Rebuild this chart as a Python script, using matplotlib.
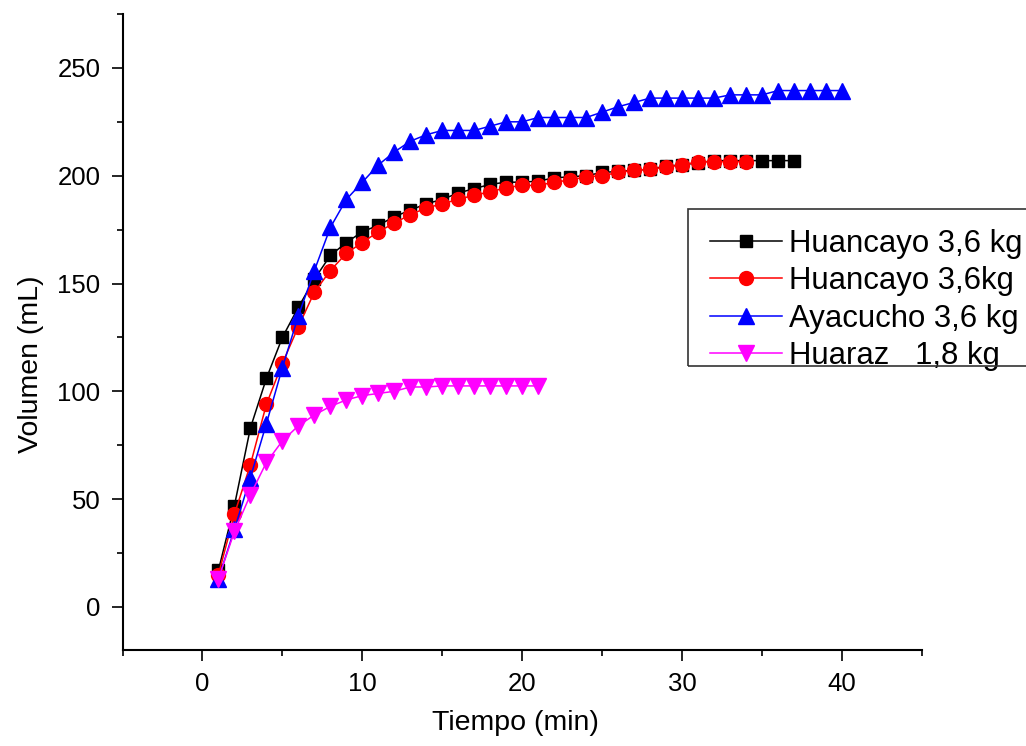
import matplotlib.pyplot as plt
from matplotlib.patches import Rectangle
from matplotlib.ticker import MultipleLocator

plt.rcParams['font.family'] = ['Liberation Sans', 'DejaVu Sans']

# Tiempo (min) por serie
t_huancayo_a = list(range(1, 38))
t_huancayo_b = list(range(1, 35))
t_ayacucho = list(range(1, 41))
t_huaraz = list(range(1, 22))

# Volumen (mL)
v_huancayo_a = [17, 47, 83, 106, 125, 139, 152, 163, 169, 174, 177, 181, 184, 187,
                189, 192, 194, 196, 197, 197, 197.5, 199, 199.5, 200, 201.5, 202,
                202.5, 203, 204.5, 205, 206, 207, 207, 207, 207, 207, 207]
v_huancayo_b = [15, 43, 66, 94, 113, 130, 146, 156, 164, 169, 174, 178, 182, 185,
                187, 189, 191, 192.5, 194.5, 195.5, 195.5, 197, 198, 199.5, 200,
                201.5, 202.5, 203, 204, 205, 206.5, 206.5, 206.5, 206.5]
v_ayacucho = [13, 36, 60, 85, 111, 135, 156, 176, 189, 197, 205, 211, 216, 219,
              221, 221, 221, 223, 225, 225, 227, 227, 227, 227, 229.5, 232, 234,
              236, 236, 236, 236, 236, 237.5, 237.5, 237.5, 239.5, 239.5, 239.5,
              239.5, 239.5]
v_huaraz = [13, 35, 52, 67, 77, 84, 89, 93, 96, 98, 99, 100, 102, 102, 102.5,
            102.5, 102.5, 102.5, 102.5, 102.5, 102.5]

labels = ['Huancayo 3,6 kg', 'Huancayo 3,6kg', 'Ayacucho 3,6 kg', 'Huaraz   1,8 kg']

fig = plt.figure(figsize=(10.26, 7.46), dpi=100)
ax = fig.add_axes([0.1194, 0.1287, 0.7792, 0.8525])

ax.plot(t_huancayo_a, v_huancayo_a, '-s', color='black', lw=1.1, ms=9,
        mec='black', label=labels[0])
ax.plot(t_huancayo_b, v_huancayo_b, '-o', color='red', lw=1.1, ms=10,
        mec='red', label=labels[1])
ax.plot(t_ayacucho, v_ayacucho, '-^', color='blue', lw=1.1, ms=11,
        mec='blue', label=labels[2])
ax.plot(t_huaraz, v_huaraz, '-v', color='magenta', lw=1.1, ms=11,
        mec='magenta', label=labels[3])

ax.set_xlim(-5, 45)
ax.set_ylim(-20, 275)
ax.xaxis.set_major_locator(MultipleLocator(10))
ax.xaxis.set_minor_locator(MultipleLocator(5))
ax.yaxis.set_major_locator(MultipleLocator(50))
ax.yaxis.set_minor_locator(MultipleLocator(25))

for side in ['top', 'right']:
    ax.spines[side].set_visible(False)
for side in ['left', 'bottom']:
    ax.spines[side].set_linewidth(1.5)

ax.tick_params(which='major', direction='out', length=8, width=1.2,
               labelsize=18.5, pad=8)
ax.tick_params(which='minor', direction='out', length=4, width=1.2)

ax.set_xlabel('Tiempo (min)', fontsize=20.5)
ax.set_ylabel('Volumen (mL)', fontsize=20.5)
ax.xaxis.set_label_coords(0.491, -0.094)
ax.yaxis.set_label_coords(-0.098, 0.45)

# legend without its own frame; the box is drawn separately and runs off the right edge
leg = ax.legend(loc='upper left', bbox_to_anchor=(0.692, 0.6936),
                bbox_transform=fig.transFigure, fontsize=22.4, numpoints=1,
                handlelength=2.3, handletextpad=0.25, labelspacing=0.24,
                borderpad=0, borderaxespad=0, frameon=False)
fig.patches.append(Rectangle((0.6706, 0.5094), 0.4, 0.2104,
                             transform=fig.transFigure, fill=False,
                             edgecolor='#333333', linewidth=1.2))

fig.savefig('out.png', dpi=100)
